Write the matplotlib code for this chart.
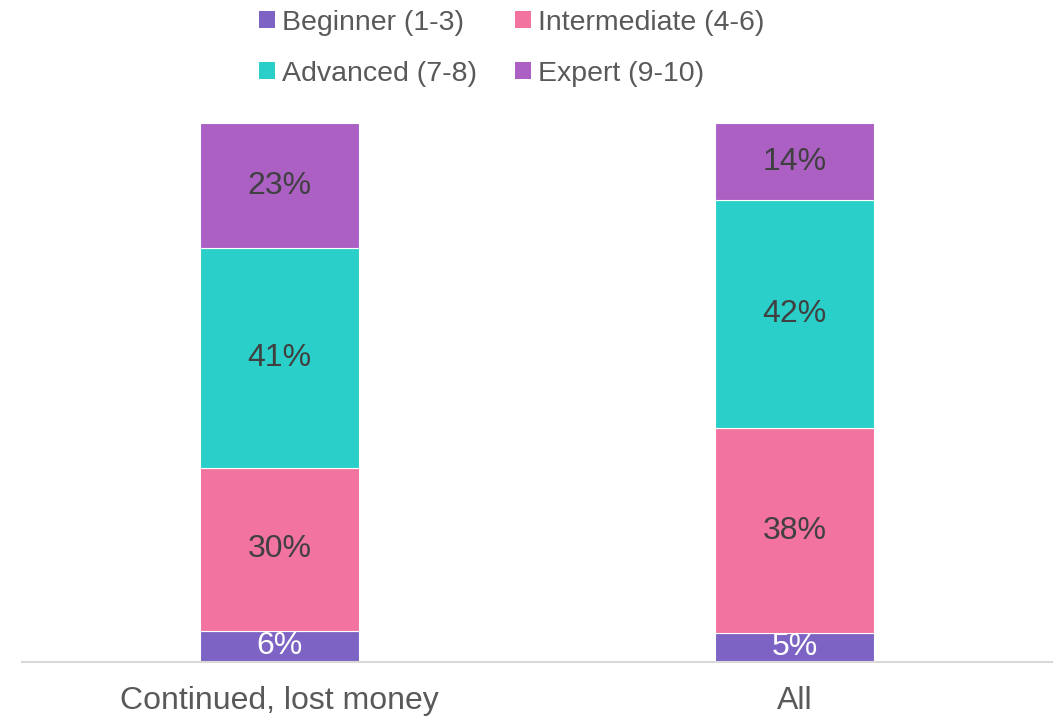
import matplotlib.pyplot as plt
import numpy as np
from matplotlib.patches import Patch

plt.rcParams['font.family'] = ['Liberation Sans', 'DejaVu Sans']

categories = ["Continued, lost money", "All"]
levels = ["Beginner (1-3)", "Intermediate (4-6)", "Advanced (7-8)", "Expert (9-10)"]
beginner = [0.058, 0.054]
intermediate = [0.302, 0.380]
advanced = [0.408, 0.423]
expert = [0.232, 0.143]
shown = [[6, 5], [30, 38], [41, 42], [23, 14]]
colors = ["#7D63C4", "#F272A0", "#2ACFCA", "#AC60C4"]
text_colors = ["white", "#404040", "#404040", "#404040"]

fig = plt.figure(figsize=(10.64, 7.18), dpi=100)
ax = fig.add_axes([0.0207, 0.078, 0.968, 0.7505])

x = np.arange(len(categories))
series = [beginner, intermediate, advanced, expert]
bottom = np.zeros(len(categories))
for vals, col, tc, lab in zip(series, colors, text_colors, shown):
    vals = np.array(vals)
    ax.bar(x, vals, 0.31, bottom=bottom, color=col, edgecolor='white', linewidth=0.8)
    for xi, b, v, t in zip(x, bottom, vals, lab):
        ax.text(xi, b + v / 2, f"{t}%", ha='center', va='center', fontsize=23, color=tc)
    bottom += vals

ax.set_xlim(-0.5, 1.5)
ax.set_ylim(0, 1)
ax.set_yticks([])
ax.set_xticks(x)
ax.set_xticklabels(categories, fontsize=23, color='#595959')
ax.tick_params(axis='x', length=0, pad=17)
for s in ['top', 'left', 'right']:
    ax.spines[s].set_visible(False)
ax.spines['bottom'].set_color('#D9D9D9')
ax.spines['bottom'].set_linewidth(1.5)

# row-wise legend order: matplotlib fills columns first
order = [0, 2, 1, 3]
handles = [Patch(facecolor=colors[i], edgecolor='none') for i in order]
fig.legend(handles, [levels[i] for i in order], loc='upper center',
           bbox_to_anchor=(0.481, 1.022), ncol=2, frameon=False, fontsize=20.5,
           labelcolor='#595959', handlelength=0.55, handleheight=0.55,
           handletextpad=0.25, columnspacing=1.35, labelspacing=0.88)

fig.savefig('out.png', dpi=100)
